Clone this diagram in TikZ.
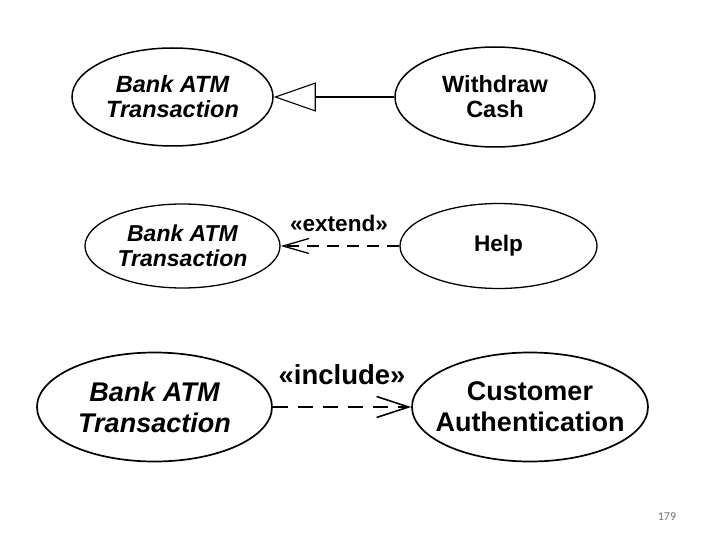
\documentclass[tikz,border=0pt]{standalone}
\usepackage{fontspec}
\setmainfont{Liberation Sans}
\newfontfamily\slidenum{Carlito}
\usetikzlibrary{shapes.geometric,arrows.meta}
\tikzset{
  usecase/.style={draw=black, line width=1.5pt, ellipse, inner sep=0pt, fill=white},
  uctext/.style={align=center, inner sep=0pt},
  smalltext/.style={font={\fontsize{23.5}{25}\selectfont\bfseries}},
  bigtext/.style={font={\fontsize{27}{31}\selectfont\bfseries}},
  reltext/.style={font={\fontsize{22.6}{25}\selectfont\bfseries}},
  generalization/.style={line width=1.1pt, -{Triangle[open, length=42pt, width=29pt, line width=1.1pt]}},
  dep/.style={line width=1.3pt, dash pattern=on 12pt off 8pt, -{Straight Barb[length=26pt, width=15pt, line width=1.3pt]}},
  depbig/.style={line width=1.6pt, dash pattern=on 15pt off 10pt, -{Straight Barb[length=32pt, width=21pt, line width=1.6pt]}},
}
\begin{document}
\begin{tikzpicture}[x=1pt, y=-1pt]
\useasboundingbox[fill=white] (0,0) rectangle (720,540);
% row 1
\node[usecase, minimum width=201pt, minimum height=98pt] (bat1) at (172.5,97) {};
\node[uctext, smalltext] (bat1t) at (bat1.center) {\itshape Bank ATM\\\itshape Transaction};
\node[usecase, minimum width=200pt, minimum height=100pt] (wc) at (495,97) {};
\node[uctext, smalltext] (wct) at (wc.center) {Withdraw\\Cash};
\draw[generalization] (wc) -- (bat1);
% row 2
\node[usecase, line width=1.3pt, minimum width=195pt, minimum height=84pt] (bat2) at (182.5,246) {};
\node[uctext, font={\fontsize{23}{25}\selectfont\bfseries}] (bat2t) at (bat2.center) {\itshape Bank ATM\\\itshape Transaction};
\node[usecase, line width=1.3pt, minimum width=197pt, minimum height=85pt] (help) at (498.5,246) {};
\node[uctext, font={\fontsize{22.6}{25}\selectfont\bfseries}] (helpt) at (help.center) {Help};
\draw[dep] (help) -- (bat2);
\node[reltext] (ext) at (339,223) {«extend»};
% row 3
\node[usecase, line width=1.7pt, minimum width=235pt, minimum height=109pt] (bat3) at (154.5,407) {};
\node[uctext, bigtext] (bat3t) at (bat3.center) {\itshape Bank ATM\\\itshape Transaction};
\node[usecase, line width=1.7pt, minimum width=236pt, minimum height=109pt] (ca) at (530,407) {};
\node[uctext, bigtext] (cat) at (ca.center) {Customer\\Authentication};
\draw[depbig] (bat3) -- (ca);
\node[font={\fontsize{27.5}{30}\selectfont\bfseries}] (inc) at (342,375) {«include»};
% page number
\node[font={\slidenum\fontsize{12}{14}\selectfont}, text=black!55] (pg) at (667,517) {179};
\end{tikzpicture}
\end{document}
